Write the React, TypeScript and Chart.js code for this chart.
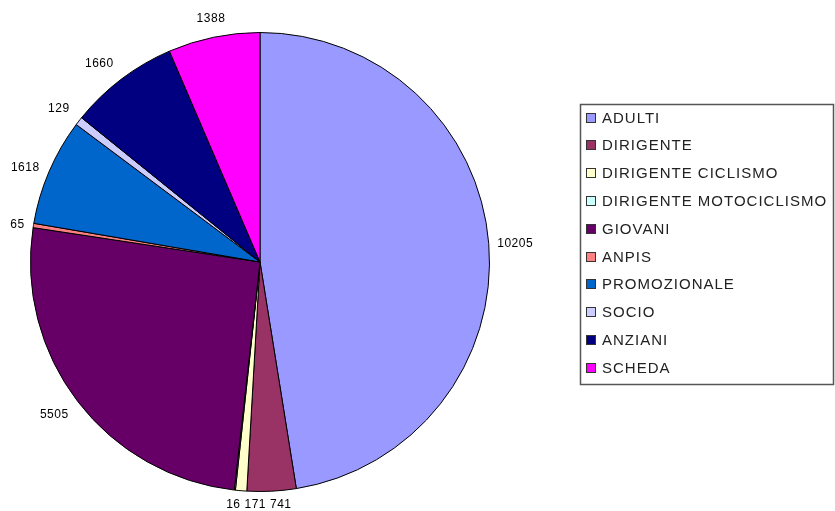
import React, { useEffect, useRef } from "react";
import { Chart, registerables } from "chart.js";

Chart.register(...registerables);

// Tesserati per categoria
const categories = [
  "ADULTI",
  "DIRIGENTE",
  "DIRIGENTE CICLISMO",
  "DIRIGENTE MOTOCICLISMO",
  "GIOVANI",
  "ANPIS",
  "PROMOZIONALE",
  "SOCIO",
  "ANZIANI",
  "SCHEDA",
];

const values = [10205, 741, 171, 16, 5505, 65, 1618, 129, 1660, 1388];

const sliceColors = [
  "#9999FF",
  "#993366",
  "#FFFFCC",
  "#CCFFFF",
  "#660066",
  "#FF8080",
  "#0066CC",
  "#CCCCFF",
  "#000080",
  "#FF00FF",
];

const FONT = '"Liberation Sans", Arial, sans-serif';

// Value labels placed just outside each slice, nudged right when they collide
const sliceValuesPlugin = {
  id: "sliceValues",
  afterDatasetsDraw(chart: any) {
    const meta = chart.getDatasetMeta(0);
    const ctx = chart.ctx as CanvasRenderingContext2D;
    ctx.save();
    ctx.font = `12px ${FONT}`;
    (ctx as any).letterSpacing = "0.5px";
    ctx.fillStyle = "#000";
    ctx.textBaseline = "middle";
    ctx.textAlign = "left";
    const placed: { l: number; r: number; t: number; b: number }[] = [];
    for (let i = meta.data.length - 1; i >= 0; i--) {
      const arc = meta.data[i];
      const p = arc.getProps(["x", "y", "startAngle", "endAngle", "outerRadius"], true);
      const mid = (p.startAngle + p.endAngle) / 2;
      const dx = Math.cos(mid);
      const dy = Math.sin(mid);
      const r = p.outerRadius + 8 + 6 * Math.abs(dy);
      const ax = p.x + dx * r;
      const ay = p.y + dy * r;
      const text = String(values[i]);
      const w = ctx.measureText(text).width;
      const h = 11;
      let left = dx > 0.3 ? ax : dx < -0.3 ? ax - w : ax - w / 2;
      let top = dy > 0.45 ? ay : dy < -0.45 ? ay - h : ay - h / 2;
      top = Math.max(2, Math.min(top, chart.height - h - 1));
      left = Math.max(2, Math.min(left, chart.width - w - 2));
      let moved = true;
      while (moved) {
        moved = false;
        for (const b of placed) {
          if (left < b.r && left + w > b.l && top < b.b && top + h > b.t) {
            left = b.r + 4;
            moved = true;
          }
        }
      }
      placed.push({ l: left, r: left + w, t: top, b: top + h });
      ctx.fillText(text, left, top + h / 2 + 0.5);
    }
    ctx.restore();
  },
};

// Boxed legend to the right of the pie
const boxedLegendPlugin = {
  id: "boxedLegend",
  afterDraw(chart: any) {
    const ctx = chart.ctx as CanvasRenderingContext2D;
    const boxLeft = 580;
    const boxTop = 104;
    const boxWidth = 253;
    const boxHeight = 280;
    const rowGap = 27.8;
    ctx.save();
    ctx.strokeStyle = "#555";
    ctx.lineWidth = 1.5;
    ctx.strokeRect(boxLeft + 0.5, boxTop + 0.5, boxWidth, boxHeight);
    ctx.font = `15px ${FONT}`;
    (ctx as any).letterSpacing = "1px";
    ctx.textBaseline = "middle";
    ctx.textAlign = "left";
    categories.forEach((name, i) => {
      const cy = boxTop + 14 + i * rowGap;
      ctx.fillStyle = sliceColors[i];
      ctx.fillRect(587, Math.round(cy - 4.5), 8, 8);
      ctx.strokeStyle = "#333";
      ctx.lineWidth = 1;
      ctx.strokeRect(586.5, Math.round(cy - 4.5) - 0.5, 9, 9);
      ctx.fillStyle = "#222";
      ctx.fillText(name, 602, cy + 0.5);
    });
    ctx.restore();
  },
};

export default function App() {
  const canvasRef = useRef<HTMLCanvasElement | null>(null);

  useEffect(() => {
    if (!canvasRef.current) return;
    const chart = new Chart(canvasRef.current, {
      type: "pie",
      data: {
        labels: categories,
        datasets: [
          {
            data: values,
            backgroundColor: sliceColors,
            borderColor: "#000",
            borderWidth: 1,
          },
        ],
      },
      options: {
        animation: false,
        responsive: false,
        maintainAspectRatio: false,
        devicePixelRatio: 1,
        layout: { padding: { left: 30, top: 32, right: 345, bottom: 19 } },
        plugins: {
          legend: { display: false },
          tooltip: { enabled: false },
        },
      },
      plugins: [sliceValuesPlugin, boxedLegendPlugin],
    });
    return () => chart.destroy();
  }, []);

  return (
    <div style={{ position: "fixed", left: 0, top: 0, width: 835, height: 511, background: "#fff" }}>
      <canvas ref={canvasRef} width={835} height={511} />
    </div>
  );
}
